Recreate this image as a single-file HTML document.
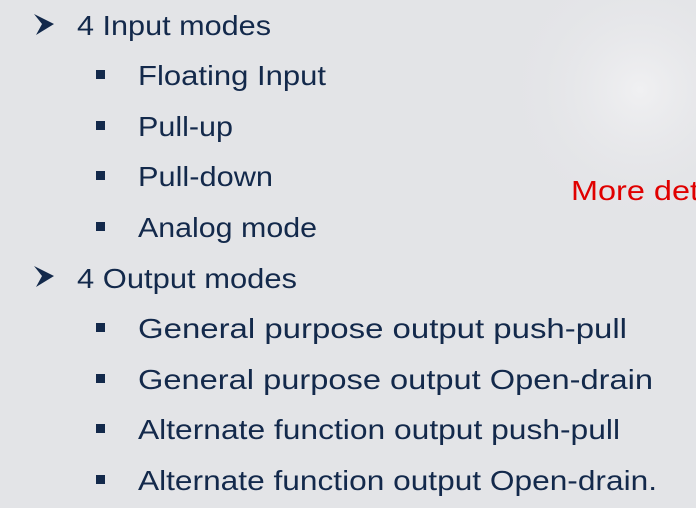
<!DOCTYPE html>
<html><head><style>
html,body{margin:0;padding:0;width:696px;height:508px;overflow:hidden}
body{background:#e3e4e7}
</style></head><body>
<svg width="696" height="508" xmlns="http://www.w3.org/2000/svg" style="position:absolute;left:0;top:0">
<defs>
<radialGradient id="g" cx="640" cy="90" r="140" gradientUnits="userSpaceOnUse">
<stop offset="0" stop-color="#f0f0f2"/><stop offset="1" stop-color="#e3e4e7" stop-opacity="0"/>
</radialGradient>
</defs>
<rect width="696" height="508" fill="#e3e4e7"/>
<rect width="696" height="508" fill="url(#g)"/>
<g fill="#13294b">
<path d="M34 14 L54 24 L36 35 L42 24 Z"/>
<path d="M34 266 L54 276 L36 287 L42 276 Z"/>
<rect x="96" y="70" width="9" height="9"/>
<rect x="96" y="121" width="9" height="9"/>
<rect x="96" y="171" width="9" height="9"/>
<rect x="96" y="222" width="9" height="9"/>
<rect x="96" y="323" width="9" height="9"/>
<rect x="96" y="374" width="9" height="9"/>
<rect x="96" y="424" width="9" height="9"/>
<rect x="96" y="475" width="9" height="9"/>
</g>
<g font-family="Liberation Sans, sans-serif" font-size="28" fill="#13294b">
<text x="77" y="35" textLength="194" lengthAdjust="spacingAndGlyphs">4 Input modes</text>
<text x="138" y="85" textLength="188" lengthAdjust="spacingAndGlyphs">Floating Input</text>
<text x="138" y="136" textLength="95" lengthAdjust="spacingAndGlyphs">Pull-up</text>
<text x="138" y="186" textLength="135" lengthAdjust="spacingAndGlyphs">Pull-down</text>
<text x="138" y="237" textLength="179" lengthAdjust="spacingAndGlyphs">Analog mode</text>
<text x="77" y="288" textLength="220" lengthAdjust="spacingAndGlyphs">4 Output modes</text>
<text x="138" y="338" textLength="489" lengthAdjust="spacingAndGlyphs">General purpose output push-pull</text>
<text x="138" y="389" textLength="515" lengthAdjust="spacingAndGlyphs">General purpose output Open-drain</text>
<text x="138" y="439" textLength="482" lengthAdjust="spacingAndGlyphs">Alternate function output push-pull</text>
<text x="138" y="490" textLength="519" lengthAdjust="spacingAndGlyphs">Alternate function output Open-drain.</text>
</g>
<text x="571" y="200" font-family="Liberation Sans, sans-serif" font-size="28" fill="#e00000" textLength="128" lengthAdjust="spacingAndGlyphs">More det</text>
</svg>
</body></html>
